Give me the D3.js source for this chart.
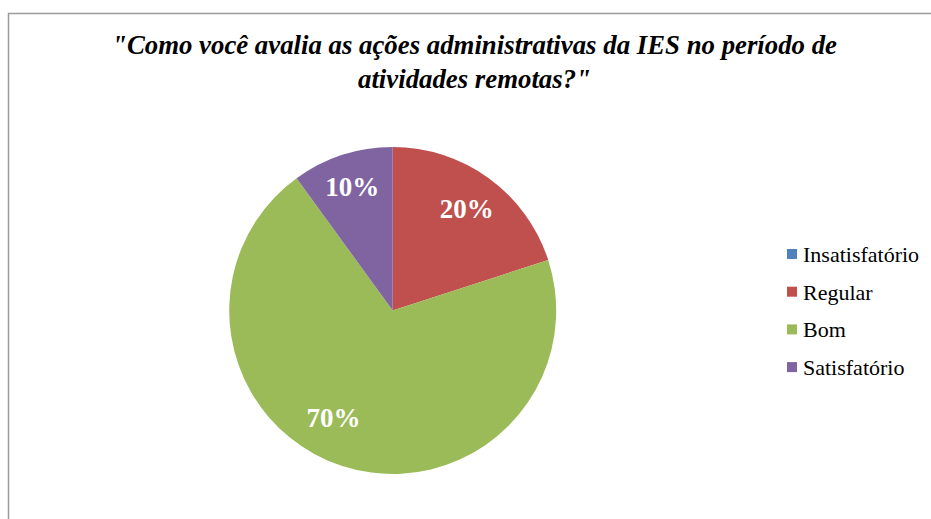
<!DOCTYPE html>
<html><head><meta charset="utf-8">
<script src="https://cdn.jsdelivr.net/npm/d3@7"></script>
<style>html,body{margin:0;padding:0;background:#fff;overflow:hidden}</style>
</head><body>
<svg id="c" width="931" height="519"></svg>
<script>
const categories = ["Insatisfatório", "Regular", "Bom", "Satisfatório"];
const values = [0, 20, 70, 10];
const colors = ["#4F81BD", "#C0504D", "#9BBB59", "#8064A2"];
const titleLines = ["\"Como você avalia as ações administrativas da IES no período de", "atividades remotas?\""];

const svg = d3.select("#c");
const serif = "'Liberation Serif', 'DejaVu Serif', serif";

svg.append("rect").attr("x", 8.5).attr("y", 13.5).attr("width", 1000).attr("height", 600)
  .attr("fill", "#fff").attr("stroke", "#9a9a9a").attr("stroke-width", 1.5);

const title = svg.append("text").attr("text-anchor", "middle")
  .attr("font-family", serif).attr("font-weight", "bold").attr("font-style", "italic")
  .attr("font-size", 26.8).attr("fill", "#000");
titleLines.forEach((t, i) => title.append("tspan").attr("x", 474.5).attr("y", 54 + i * 34).text(t));

const cx = 392.7, cy = 310.5, r = 163.5;
const g = svg.append("g").attr("transform", `translate(${cx},${cy})`);
const pie = d3.pie().sort(null).value(d => d)(values);
const arc = d3.arc().innerRadius(0).outerRadius(r);
const color = d3.scaleOrdinal().domain(categories).range(colors);

g.selectAll("path").data(pie).enter().append("path")
  .attr("d", arc).attr("fill", (d, i) => color(categories[i]));

const total = d3.sum(values);
const labelR = [0, 0.77, 0.75, 0.8];
const labelShift = [0, 0, 0.19, 0];
g.selectAll("text.lbl").data(pie.filter(d => d.value > 0)).enter().append("text")
  .attr("class", "lbl")
  .attr("transform", d => {
    const i = d.index;
    const a = (d.startAngle + d.endAngle) / 2 + labelShift[i];
    const rr = r * labelR[i];
    return `translate(${Math.sin(a) * rr},${-Math.cos(a) * rr})`;
  })
  .attr("text-anchor", "middle").attr("dy", "0.35em")
  .attr("font-family", serif).attr("font-weight", "bold").attr("font-size", 27)
  .attr("fill", "#fff")
  .text(d => Math.round(d.value / total * 100) + "%");

const leg = svg.append("g");
categories.forEach((c, i) => {
  const y = 262 + i * 37.7;
  leg.append("rect").attr("x", 787).attr("y", y - 13).attr("width", 10).attr("height", 10).attr("fill", color(c));
  leg.append("text").attr("x", 803).attr("y", y).attr("font-family", serif)
    .attr("font-size", 22).attr("fill", "#000").text(c);
});
</script>
</body></html>
